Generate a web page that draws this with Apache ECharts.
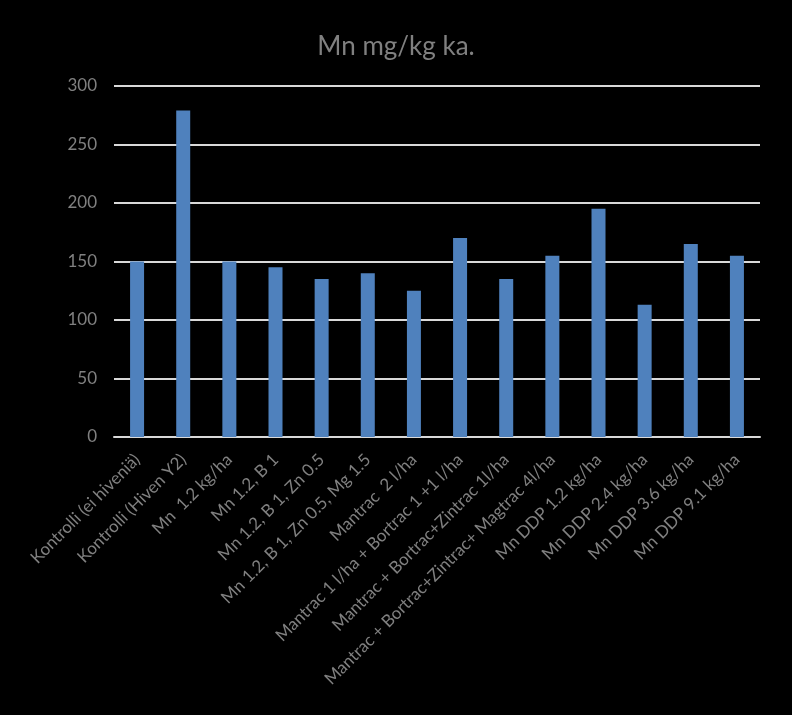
<!DOCTYPE html>
<html><head><meta charset="utf-8">
<script src="https://cdn.jsdelivr.net/npm/echarts@6/dist/echarts.min.js"></script>
<style>html,body{margin:0;padding:0;background:#000}#c{width:792px;height:715px}</style>
</head><body><div id="c"></div>
<script>
const titleText = "Mn mg/kg ka.";
const categories = ["Kontrolli (ei hiveniä)","Kontrolli (Hiven Y2)","Mn  1.2 kg/ha","Mn 1.2, B 1","Mn 1.2, B 1, Zn 0.5","Mn 1.2, B 1, Zn 0.5, Mg 1.5","Mantrac  2 l/ha","Mantrac 1 l/ha + Bortrac 1 +1 l/ha","Mantrac + Bortrac+Zintrac 1l/ha","Mantrac + Bortrac+Zintrac+ Magtrac 4l/ha","Mn DDP 1.2 kg/ha","Mn DDP 2.4 kg/ha","Mn DDP 3.6 kg/ha","Mn DDP 9.1 kg/ha"];
const values = [150,279,150,145,135,140,125,170,135,155,195,113,165,155];
const chart = echarts.init(document.getElementById('c'));
chart.setOption({
  backgroundColor:'#000',
  animation:false,
  title:{text:titleText,left:'center',top:29,textStyle:{color:'#808080',fontFamily:'Lato',fontSize:26,fontWeight:'normal'}},
  grid:{left:114,right:32,top:86,bottom:278,containLabel:false},
  xAxis:{type:'category',data:categories,
    axisLine:{lineStyle:{color:'#d9d9d9',width:2}},axisTick:{show:false},
    axisLabel:{interval:0,rotate:45,color:'#808080',fontFamily:'Lato',fontSize:17,margin:20}},
  yAxis:{type:'value',min:0,max:300,interval:50,
    axisLine:{show:false},axisTick:{show:false},
    splitLine:{lineStyle:{color:'#d9d9d9',width:2}},
    axisLabel:{color:'#808080',fontFamily:'Lato',fontSize:17,margin:17}},
  series:[{type:'bar',data:values,barWidth:14,itemStyle:{color:'#4f81bd'}}]
});
</script></body></html>
